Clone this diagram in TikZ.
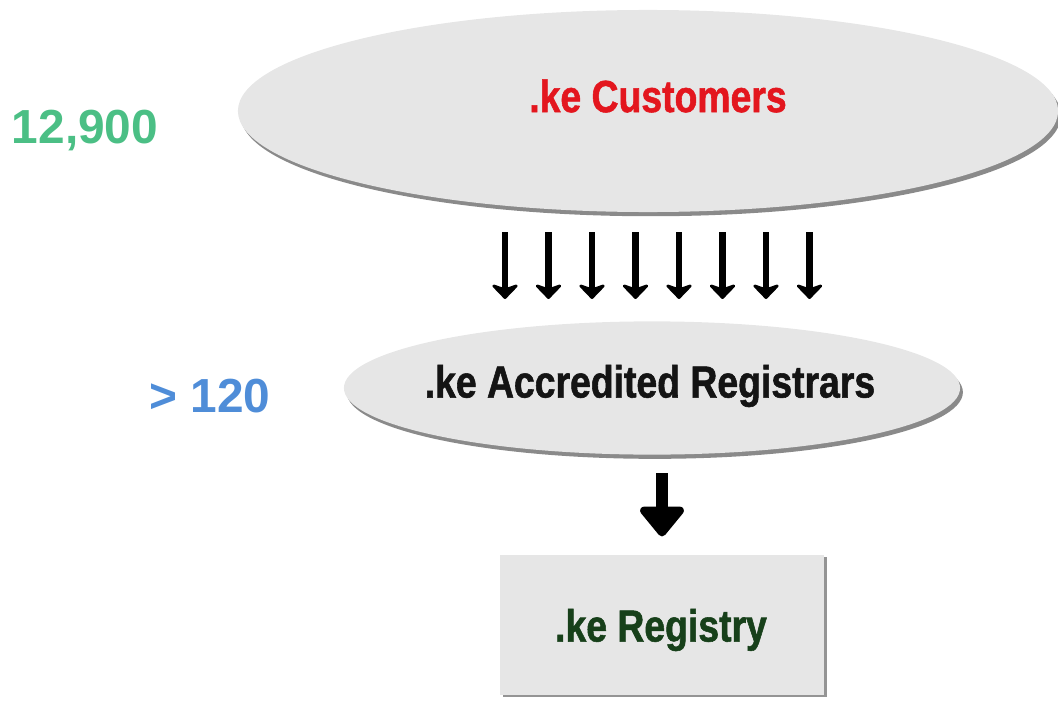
\documentclass[tikz,border=0pt]{standalone}
\usepackage{fontspec}
\setmainfont{Liberation Sans}
\newfontfamily\narrowfont[FakeStretch=0.83,BoldFeatures={FakeBold=1.2}]{Liberation Sans}
\usetikzlibrary{shapes,arrows,arrows.meta,shadows}

\definecolor{custred}{HTML}{E3161E}
\definecolor{regblack}{HTML}{141414}
\definecolor{regdarkgreen}{HTML}{17401A}
\definecolor{countgreen}{HTML}{4BBF85}
\definecolor{countblue}{HTML}{4F8DD8}
\definecolor{ovalgray}{HTML}{E6E6E6}

\begin{document}
\begin{tikzpicture}[x=0.025cm,y=-0.025cm]
        % .ke domain chain: customers -> registrars -> registry
        \tikzstyle{oval} = [ellipse,fill=ovalgray,inner sep=0pt,
            drop shadow={shadow xshift=2pt,shadow yshift=-3pt,fill=black!70,opacity=0.65}];
        \tikzstyle{block} = [rectangle,fill=ovalgray,inner sep=0pt,
            drop shadow={shadow xshift=2pt,shadow yshift=-1.5pt,fill=black!70,opacity=0.6}];
        \tikzstyle{title} = [font=\narrowfont\bfseries\fontsize{32}{32}\selectfont];
        \tikzstyle{count} = [font=\bfseries\fontsize{34}{34}\selectfont];
        \tikzstyle{smallarrow} = [-{Stealth[length=12pt,width=23pt,inset=4pt,round]},line width=4.6pt];
        \tikzstyle{fatarrow} = [-{Triangle[length=23pt,width=36pt,round]},line width=9pt];

        \useasboundingbox (0,0) rectangle (1058,703);

        \node[oval,minimum width=20.5cm,minimum height=5.05cm] (customers) at (648,111) {};
        \node[title,text=custred] (customers_text) at (658,96) {.ke Customers};

        \node[oval,minimum width=15.4cm,minimum height=3.33cm] (registrars) at (652,388) {};
        \node[title,text=regblack] (registrars_text) at (650,386) {.ke Accredited Registrars};

        \node[block,minimum width=8.1cm,minimum height=3.5cm] (registry) at (662,625) {};
        \node[title,text=regdarkgreen] (registry_text) at (661,630) {.ke Registry};

        \node[count,text=countgreen] (customers_count) at (85,131) {12,900};
        \node[count,text=countblue] (registrars_count) at (210,396) {> 120};

        \foreach \i in {0,...,7} {
            \coordinate (from\i) at (505+43.5*\i,232);
            \coordinate (to\i) at (505+43.5*\i,299);
            \draw[smallarrow] (from\i) -- (to\i);
        }

        \draw[fatarrow,shorten <=13pt,shorten >=13pt] (registrars.south -| registry.north) -- (registry.north);

    \end{tikzpicture}
\end{document}
